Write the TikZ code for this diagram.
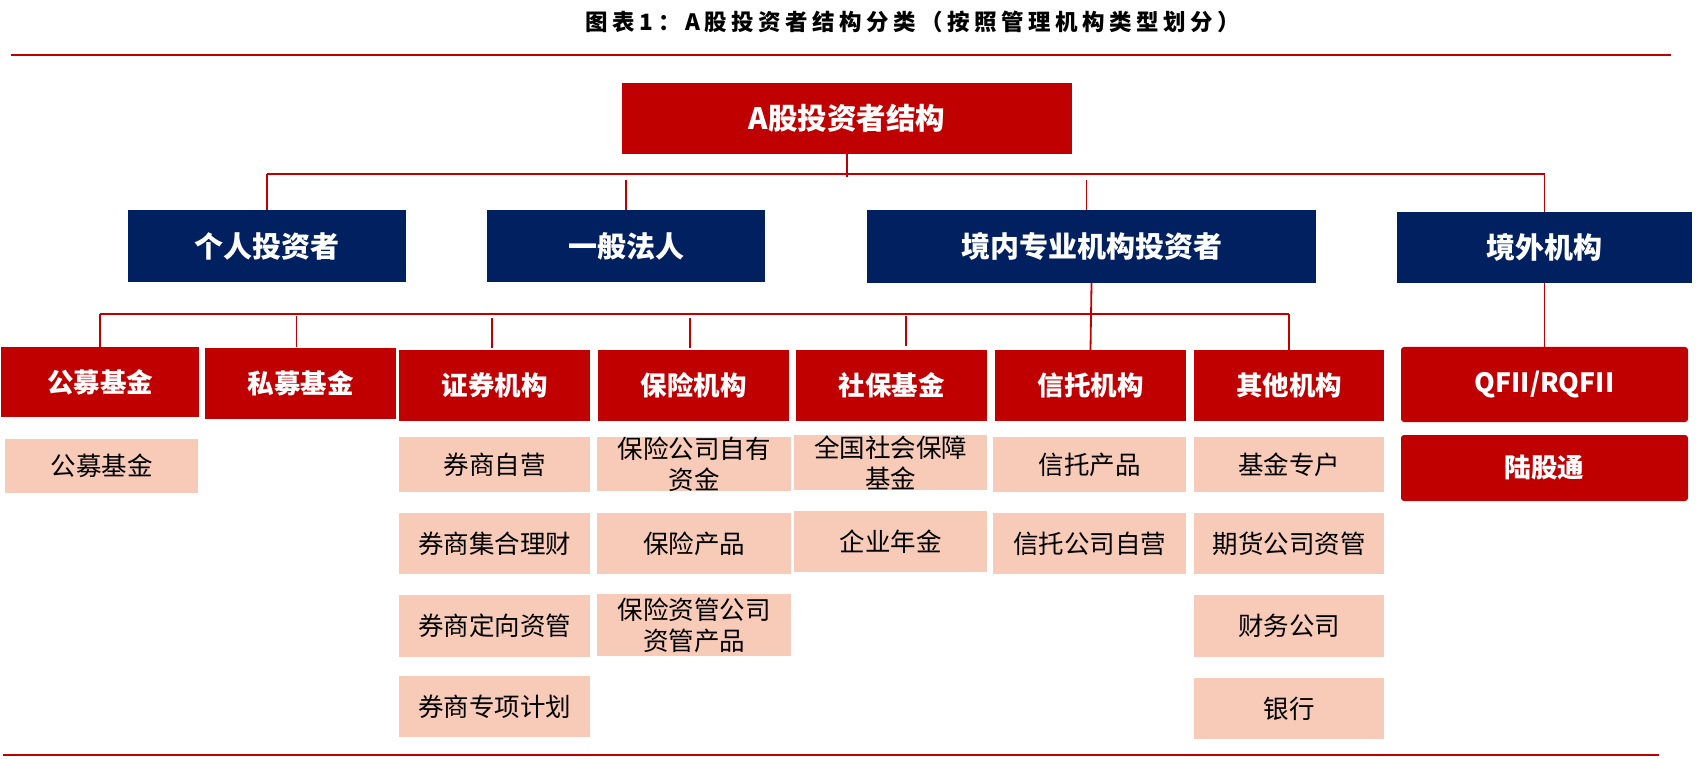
\documentclass[tikz,border=0pt]{standalone}
\usepackage{fontspec}
\setmainfont{Noto Sans CJK SC}
\usetikzlibrary{calc}
\definecolor{cred}{HTML}{C00000}
\definecolor{cnavy}{HTML}{002060}
\definecolor{cpink}{HTML}{F8CBB8}
\tikzset{
  box/.style={rectangle, inner sep=0pt, align=center},
  rootbox/.style={box, fill=cred, text=white, font=\bfseries\fontsize{29.5}{33}\selectfont},
  navybox/.style={box, fill=cnavy, text=white, font=\bfseries\fontsize{29}{33}\selectfont},
  redbox/.style={box, fill=cred, text=white, font=\bfseries\fontsize{26.5}{30}\selectfont},
  pinkbox/.style={box, fill=cpink, text=black, font=\fontsize{25.5}{31}\selectfont},
  conn/.style={draw=cred, line width=1.8pt},
  rule/.style={draw=cred, line width=2.6pt},
}
\begin{document}
\begin{tikzpicture}[x=1pt,y=-1pt]
\useasboundingbox (0,0) rectangle (1701,759);
% title and rules
\node[font=\bfseries\fontsize{22.5}{26}\selectfont\addfontfeature{LetterSpace=20}] (title) at (913,22) {图表1：A股投资者结构分类（按照管理机构类型划分）};
\coordinate (tl) at (11,55);
\coordinate (tr) at (1671,55);
\coordinate (bl) at (3,755);
\coordinate (br) at (1659,755);
\draw[rule] (tl) -- (tr);
\draw[rule] (bl) -- (br);
% root
\node[rootbox, minimum width=450pt, minimum height=71pt] (root) at (847,118.5) {A股投资者结构};
% level 1
\node[navybox, minimum width=278pt, minimum height=72pt] (ind) at (267,246) {个人投资者};
\node[navybox, minimum width=278pt, minimum height=72pt] (gen) at (626,246) {一般法人};
\node[navybox, minimum width=449pt, minimum height=73pt] (dom) at (1091.5,246.5) {境内专业机构投资者};
\node[navybox, minimum width=295pt, minimum height=71pt] (ovs) at (1544.5,247.5) {境外机构};
% level 2 (red)
\node[redbox, minimum width=198pt, minimum height=70pt] (gm) at (100,382) {公募基金};
\node[redbox, minimum width=191pt, minimum height=71pt] (sm) at (300.5,383.5) {私募基金};
\node[redbox, minimum width=191pt, minimum height=71pt] (zq) at (494.5,385.5) {证券机构};
\node[redbox, minimum width=191pt, minimum height=71pt] (bx) at (693.5,385.5) {保险机构};
\node[redbox, minimum width=191pt, minimum height=71pt] (sb) at (891.5,385.5) {社保基金};
\node[redbox, minimum width=191pt, minimum height=71pt] (xt) at (1090.5,385.5) {信托机构};
\node[redbox, minimum width=190pt, minimum height=71pt] (qt) at (1289,385.5) {其他机构};
\node[redbox, rounded corners=3pt, minimum width=287pt, minimum height=75pt] (qf) at (1544.5,384.5) {QFII/RQFII};
\node[redbox, rounded corners=3pt, minimum width=287pt, minimum height=66pt] (lg) at (1544.5,468) {陆股通};
% level 3 (pink)
\node[pinkbox, minimum width=193pt, minimum height=54pt] (p1) at (101.5,466) {公募基金};
\node[pinkbox, minimum width=191pt, minimum height=55pt] (z1) at (494.5,464.5) {券商自营};
\node[pinkbox, minimum width=191pt, minimum height=61pt] (z2) at (494.5,543.5) {券商集合理财};
\node[pinkbox, minimum width=191pt, minimum height=62pt] (z3) at (494.5,626) {券商定向资管};
\node[pinkbox, minimum width=191pt, minimum height=61pt] (z4) at (494.5,706.5) {券商专项计划};
\node[pinkbox, minimum width=194pt, minimum height=54pt] (b1) at (694,464) {保险公司自有\\资金};
\node[pinkbox, minimum width=194pt, minimum height=61pt] (b2) at (694,543.5) {保险产品};
\node[pinkbox, minimum width=194pt, minimum height=62pt] (b3) at (694,625) {保险资管公司\\资管产品};
\node[pinkbox, minimum width=193pt, minimum height=55pt] (s1) at (890.5,462.5) {全国社会保障\\基金};
\node[pinkbox, minimum width=193pt, minimum height=61pt] (s2) at (890.5,541.5) {企业年金};
\node[pinkbox, minimum width=193pt, minimum height=55pt] (x1) at (1089.5,464.5) {信托产品};
\node[pinkbox, minimum width=193pt, minimum height=61pt] (x2) at (1089.5,543.5) {信托公司自营};
\node[pinkbox, minimum width=190pt, minimum height=55pt] (q1) at (1289,464.5) {基金专户};
\node[pinkbox, minimum width=190pt, minimum height=61pt] (q2) at (1289,543.5) {期货公司资管};
\node[pinkbox, minimum width=190pt, minimum height=62pt] (q3) at (1289,626) {财务公司};
\node[pinkbox, minimum width=190pt, minimum height=61pt] (q4) at (1289,708.5) {银行};
% connectors level 1
\coordinate (bus1) at (0,174);
\draw[conn] (root.south) -- ($(root.south |- bus1)+(0,3)$);
\draw[conn] (ind.north |- bus1) -- (ovs.north |- bus1);
\draw[conn] (ind.north |- bus1) -- (ind.north);
\draw[conn] ($(gen.north |- bus1)+(0,6)$) -- (gen.north);
\draw[conn] ($(dom.north |- bus1)+(-5,6)$) -- ($(dom.north)+(-5,0)$);
\draw[conn] (ovs.north |- bus1) -- (ovs.north);
% connectors level 2
\coordinate (bus2) at (0,314);
\draw[conn] (dom.south) -- (xt.north);
\draw[conn] (gm.north |- bus2) -- (qt.north |- bus2);
\draw[conn] (gm.north |- bus2) -- (gm.north);
\draw[conn] ($(sm.north |- bus2)+(-4,2)$) -- ($(sm.north)+(-4,-1)$);
\draw[conn] ($(zq.north |- bus2)+(-2.5,4)$) -- ($(zq.north)+(-2.5,-2)$);
\draw[conn] ($(bx.north |- bus2)+(-3.5,4)$) -- ($(bx.north)+(-3.5,-2)$);
\draw[conn] ($(sb.north |- bus2)+(14.5,2)$) -- ($(sb.north)+(14.5,-4)$);
\draw[conn] (qt.north |- bus2) -- (qt.north);
\draw[conn] (ovs.south) -- (qf.north);
\end{tikzpicture}
\end{document}
